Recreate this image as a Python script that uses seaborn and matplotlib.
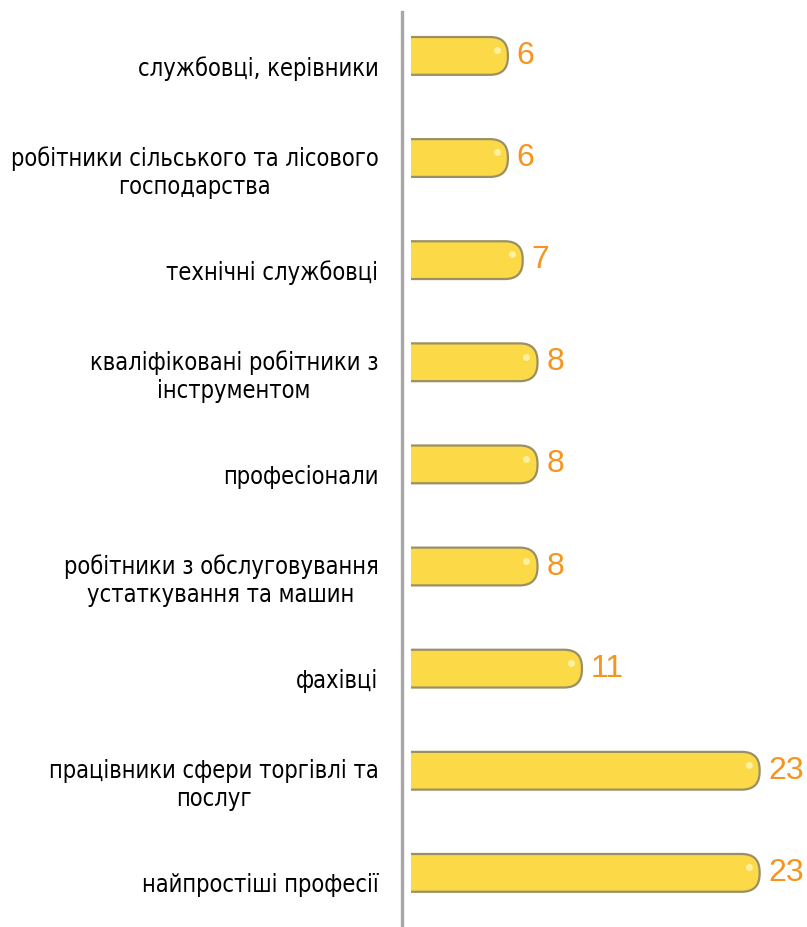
import matplotlib
matplotlib.use("Agg")
import matplotlib.pyplot as plt
import matplotlib.transforms as mtransforms
from matplotlib.patches import FancyBboxPatch, Rectangle
import seaborn as sns
import pandas as pd

categories = [
    "службовці, керівники",
    "робітники сільського та лісового\nгосподарства",
    "технічні службовці",
    "кваліфіковані робітники з\nінструментом",
    "професіонали",
    "робітники з обслуговування\nустаткування та машин",
    "фахівці",
    "працівники сфери торгівлі та\nпослуг",
    "найпростіші професії",
]
values = [6, 6, 7, 8, 8, 8, 11, 23, 23]

df = pd.DataFrame({"category": categories, "value": values})

sns.set_style("white")
plt.rcParams["font.family"] = ["DejaVu Sans"]

fig = plt.figure(figsize=(8.07, 9.27), dpi=100)
ax = fig.add_axes([402 / 807, 0.0, 405 / 807, 1 - 12 / 927])

sns.barplot(data=df, y="category", x="value", orient="h", width=0.37,
            color="#FCD947", ax=ax)

ax.set_xlim(-1.15, 26.2)
ax.set_ylim(8.53, -0.43)

# rounded bars in place of the plain rectangles (square at the axis side)
fig.canvas.draw()
p0 = ax.transData.transform((0, 0))
p1 = ax.transData.transform((1, 1))
aspect = abs(p1[0] - p0[0]) / abs(p1[1] - p0[1])
lead = 0.55
rad = 1.2
for bar in list(ax.patches):
    x, y = bar.get_x(), bar.get_y()
    w, h = bar.get_width(), bar.get_height()
    bar.set_visible(False)
    box = FancyBboxPatch((x - lead - rad, y), w + lead + rad, h,
                         boxstyle=f"round,pad=0,rounding_size={rad}",
                         mutation_aspect=aspect,
                         facecolor="#FCD947", edgecolor="#9A9064",
                         linewidth=1.6, zorder=3)
    ax.add_patch(box)
    clip = Rectangle((x - lead, y - 0.2), w + 10, h + 0.4,
                     transform=ax.transData)
    box.set_clip_path(clip)
    # small gloss near the rounded end
    ax.plot([x + w - 0.75], [y + h * 0.35], marker="o", ms=4,
            color="#FFF3A8", alpha=0.9, zorder=4)
    ax.text(x + w + 0.6, y + h / 2, f"{int(w)}", color="#F7941D",
            fontsize=23, va="center", ha="left",
            family=["Liberation Sans", "DejaVu Sans"])

ax.set_xlabel("")
ax.set_ylabel("")
ax.set_xticks([])
ax.tick_params(axis="y", length=0, pad=17)
offset = mtransforms.ScaledTranslation(0, -10 / 100, fig.dpi_scale_trans)
for lab in ax.get_yticklabels():
    lab.set_multialignment("center")
    lab.set_transform(lab.get_transform() + offset)
    lab.set_color("black")
    lab.set_fontsize(17)
    lab.set_fontstretch("condensed")

for side in ["top", "right", "bottom"]:
    ax.spines[side].set_visible(False)
ax.spines["left"].set_color("#A6A6A6")
ax.spines["left"].set_linewidth(2.4)

fig.savefig("out.png", dpi=100)
